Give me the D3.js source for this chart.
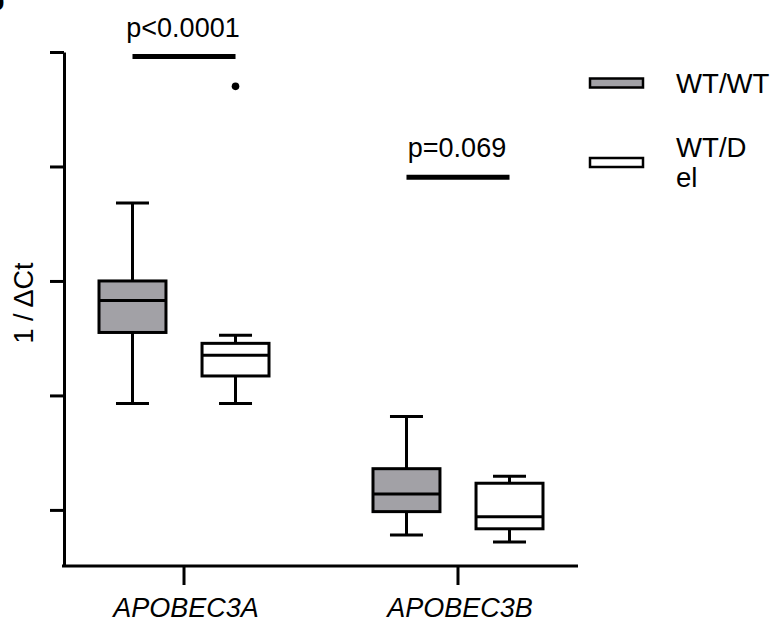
<!DOCTYPE html>
<html>
<head>
<meta charset="utf-8">
<script src="https://cdn.jsdelivr.net/npm/d3@7"></script>
<style>
  html, body { margin: 0; padding: 0; background: #fff; }
  svg { display: block; font-family: "Liberation Sans", Arial, Helvetica, sans-serif; }
</style>
</head>
<body>
<svg id="chart" width="776" height="624"></svg>
<script>
// ---- data ----
const categories = ["APOBEC3A", "APOBEC3B"];
const groups = ["WT/WT", "WT/Del"];
const groupColors = ["#a2a1a6", "#ffffff"];
// box stats per category, per group: [low whisker, Q1, median, Q3, high whisker]
const statsWTWT  = [[0.93, 1.55, 1.83, 2.00, 2.68], [-0.22, -0.015, 0.14, 0.36, 0.815]];
const statsWTDel = [[0.93, 1.17, 1.35, 1.455, 1.525], [-0.28, -0.165, -0.06, 0.233, 0.294]];
const outliers = [{cat: "APOBEC3A", group: "WT/Del", value: 3.70}];
const yTicks = [0, 1, 2, 3, 4];
const sigLabels = ["p<0.0001", "p=0.069"];
const sigLevels = [3.96, 2.905];
const yLabel = "1 / \u0394Ct";

const svg = d3.select("#chart");

const x = d3.scaleBand().domain(categories).range([64, 578]).paddingInner(0.5).paddingOuter(0.188);
const sub = d3.scaleBand().domain(groups)
  .range([x.bandwidth() / 2 - 85, x.bandwidth() / 2 + 85]).paddingInner(0.35);
const y = d3.scaleLinear().domain([-0.49, 4]).range([566, 52]);

// panel letter (cut off at the edge, as in the reference)
svg.append("text").attr("x", -12).attr("y", 10).attr("font-size", 27).attr("font-weight", "bold").text("b");

// y axis
const yAxis = svg.append("g").attr("transform", "translate(64,0)")
  .call(d3.axisLeft(y).tickValues(yTicks).tickFormat("").tickSize(14).tickSizeOuter(0));
yAxis.select(".domain").attr("stroke-width", 3);
yAxis.selectAll(".tick line").attr("stroke-width", 3);

// x axis
const xAxis = svg.append("g").attr("transform", "translate(0,566)")
  .call(d3.axisBottom(x).tickSize(19).tickSizeOuter(0).tickPadding(13));
xAxis.select(".domain").attr("stroke-width", 3).attr("d", "M62,0H578");
xAxis.selectAll(".tick line").attr("stroke-width", 3);
xAxis.selectAll(".tick text").attr("font-size", 27).attr("font-style", "italic").attr("fill", "#000")
  .attr("dy", "0.71em").attr("y", 32).attr("dx", 2);

// y label
svg.append("text").attr("transform", "translate(33,303) rotate(-90)")
  .attr("text-anchor", "middle").attr("font-size", 27).text(yLabel);

// boxes
const boxData = [];
categories.forEach((c, i) => {
  [statsWTWT, statsWTDel].forEach((s, g) => {
    const [lo, q1, med, q3, hi] = s[i];
    boxData.push({cat: c, group: groups[g], color: groupColors[g], lo, q1, med, q3, hi});
  });
});
const capW = 33;
const bg = svg.append("g").attr("stroke", "#000").attr("stroke-width", 3);
boxData.forEach(d => {
  const x0 = x(d.cat) + sub(d.group);
  const bw = sub.bandwidth();
  const cx = x0 + bw / 2;
  const g = bg.append("g");
  g.append("line").attr("x1", cx).attr("x2", cx).attr("y1", y(d.hi)).attr("y2", y(d.q3));
  g.append("line").attr("x1", cx).attr("x2", cx).attr("y1", y(d.q1)).attr("y2", y(d.lo));
  g.append("line").attr("x1", cx - capW / 2).attr("x2", cx + capW / 2).attr("y1", y(d.hi)).attr("y2", y(d.hi));
  g.append("line").attr("x1", cx - capW / 2).attr("x2", cx + capW / 2).attr("y1", y(d.lo)).attr("y2", y(d.lo));
  g.append("rect").attr("x", x0).attr("width", bw).attr("y", y(d.q3)).attr("height", y(d.q1) - y(d.q3))
    .attr("fill", d.color);
  g.append("line").attr("x1", x0).attr("x2", x0 + bw).attr("y1", y(d.med)).attr("y2", y(d.med));
});

// outliers
outliers.forEach(o => {
  svg.append("circle").attr("cx", x(o.cat) + sub(o.group) + sub.bandwidth() / 2)
    .attr("cy", y(o.value)).attr("r", 3.8).attr("fill", "#000");
});

// significance bars
categories.forEach((c, i) => {
  const x1 = x(c) + sub(groups[0]) + sub.bandwidth() / 2;
  const x2 = x(c) + sub(groups[1]) + sub.bandwidth() / 2;
  svg.append("line").attr("x1", x1).attr("x2", x2).attr("y1", y(sigLevels[i])).attr("y2", y(sigLevels[i]))
    .attr("stroke", "#000").attr("stroke-width", 5);
  svg.append("text").attr("x", (x1 + x2) / 2 - 1).attr("y", y(sigLevels[i]) - 20)
    .attr("text-anchor", "middle").attr("font-size", 27).text(sigLabels[i]);
});

// legend
const lg = svg.append("g");
const legendRows = [
  {rectY: 78.5, lines: ["WT/WT"], textY: 92.7},
  {rectY: 158, lines: ["WT/D", "el"], textY: 156.7}
];
legendRows.forEach((r, i) => {
  lg.append("rect").attr("x", 590).attr("y", r.rectY).attr("width", 53).attr("height", 9)
    .attr("fill", groupColors[i]).attr("stroke", "#000").attr("stroke-width", 2.5);
  const t = lg.append("text").attr("x", 676).attr("y", r.textY).attr("font-size", 27.6);
  r.lines.forEach((l, k) => t.append("tspan").attr("x", 676).attr("dy", k === 0 ? 0 : 30.6).text(l));
});
</script>
</body>
</html>
